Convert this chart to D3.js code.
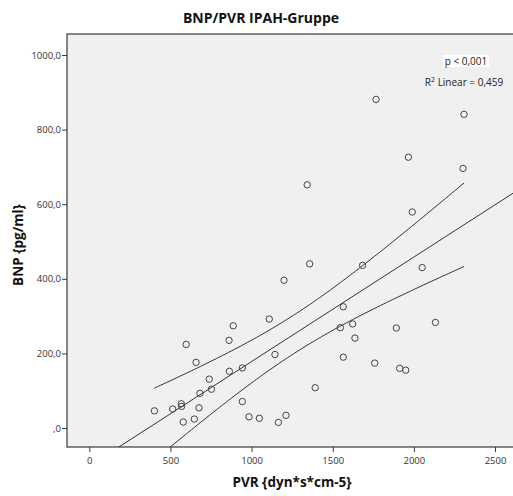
<!DOCTYPE html>
<html><head><meta charset="utf-8">
<script src="https://cdn.jsdelivr.net/npm/d3@7/dist/d3.min.js"></script>
<style>body{margin:0;background:#fff;} text{font-family:"Open Sans","Liberation Sans",sans-serif;}</style>
</head><body><svg id="c" width="513" height="496"></svg>
<script>
const title = "BNP/PVR IPAH-Gruppe";
const xTitle = "PVR {dyn*s*cm-5}";
const yTitle = "BNP {pg/ml}";
const xTicks = [0, 500, 1000, 1500, 2000, 2500];
const yTicks = [0, 200, 400, 600, 800, 1000];
const yTickLabels = [",0", "200,0", "400,0", "600,0", "800,0", "1000,0"];
const pText = "p < 0,001";
const r2Value = "0,459";
const pvr = [1767,2309,1966,2303,1343,1990,1358,1684,2051,1200,1565,1547,1623,1892,2133,1637,1565,1759,1913,1950,1392,1109,887,597,861,658,1144,739,863,943,682,753,401,514,567,569,676,579,647,943,984,1048,1165,1212];
const bnp = [881,841,726,696,652,579,440,436,430,396,325,269,279,268,283,241,190,174,160,155,108,292,274,224,235,176,197,131,152,161,93,104,46,51,65,58,54,16,24,71,30,26,15,34];

const svg = d3.select("#c");
const L = 67, T = 34, B = 447, R = 520;
const x = d3.scaleLinear().domain([0, 2500]).range([89.3, 495]);
const y = d3.scaleLinear().domain([0, 1000]).range([428, 55]);

svg.append("rect").attr("x", L).attr("y", T).attr("width", R - L).attr("height", B - T)
  .attr("fill", "#f0f0f0").attr("stroke", "#3a3a3a").attr("stroke-width", 1.2);

// axes
const xa = svg.append("g").attr("transform", `translate(0,${B})`)
  .call(d3.axisBottom(x).tickValues(xTicks).tickSize(5).tickFormat(d3.format("d")));
const ya = svg.append("g").attr("transform", `translate(${L},0)`)
  .call(d3.axisLeft(y).tickValues(yTicks).tickSize(5).tickFormat((d, i) => yTickLabels[i]));
[xa, ya].forEach(a => {
  a.select(".domain").remove();
  a.selectAll("line").attr("stroke", "#3a3a3a");
  a.selectAll("text").attr("fill", "#333").style("font-size", "9.5px");
});
xa.selectAll("text").attr("dy", "0.71em").attr("y", 10);
ya.selectAll("text").attr("x", -6);

// regression from data
const n = pvr.length;
const mx = d3.mean(pvr), my = d3.mean(bnp);
let sxx = 0, sxy = 0;
for (let i = 0; i < n; i++) { sxx += (pvr[i]-mx)**2; sxy += (pvr[i]-mx)*(bnp[i]-my); }
const b1 = sxy / sxx, b0 = my - b1 * mx;
let sse = 0;
for (let i = 0; i < n; i++) sse += (bnp[i] - b0 - b1*pvr[i])**2;
const s = Math.sqrt(sse / (n - 2));
const tq = 2.018;
const clipId = "clp";
svg.append("clipPath").attr("id", clipId).append("rect").attr("x", L).attr("y", T).attr("width", R-L).attr("height", B-T);
const g = svg.append("g").attr("clip-path", `url(#${clipId})`);
const xmin = d3.min(pvr), xmax = d3.max(pvr);
const fitX = [x.invert(L), x.invert(R)];
const line = d3.line().x(d => x(d[0])).y(d => y(d[1]));
g.append("path").datum(fitX.map(v => [v, b0 + b1*v])).attr("d", line)
  .attr("fill", "none").attr("stroke", "#333").attr("stroke-width", 1);
const xs = d3.range(0, 101).map(i => xmin + (xmax - xmin) * i / 100);
[1, -1].forEach(sg => {
  g.append("path").datum(xs.map(v => [v, b0 + b1*v + sg*tq*s*Math.sqrt(1/n + (v-mx)**2/sxx)]))
    .attr("d", line).attr("fill", "none").attr("stroke", "#333").attr("stroke-width", 1);
});

g.selectAll("circle").data(pvr).enter().append("circle")
  .attr("cx", (d) => x(d)).attr("cy", (d, i) => y(bnp[i])).attr("r", 3.2)
  .attr("fill", "none").attr("stroke", "#444").attr("stroke-width", 1);

// annotations
svg.append("rect").attr("x", 443).attr("y", 55).attr("width", 46).attr("height", 12).attr("fill", "#fff");
svg.append("text").attr("x", 466).attr("y", 64.5).attr("text-anchor", "middle").style("font-size", "10px").attr("fill", "#222").text(pText);
const r2t = svg.append("text").attr("x", 464).attr("y", 85.5).attr("text-anchor", "middle").style("font-size", "10px").attr("fill", "#222");
r2t.append("tspan").text("R");
r2t.append("tspan").attr("dy", -4).style("font-size", "7px").text("2");
r2t.append("tspan").attr("dy", 4).text(" Linear = " + r2Value);

// titles
svg.append("text").attr("x", 261).attr("y", 23).attr("text-anchor", "middle").style("font-size", "14px").style("font-weight", "bold").attr("fill", "#111").text(title);
svg.append("text").attr("x", 292).attr("y", 487).attr("text-anchor", "middle").style("font-size", "13.5px").style("font-weight", "bold").attr("fill", "#111").text(xTitle);
svg.append("text").attr("transform", "translate(23,245) rotate(-90)").attr("text-anchor", "middle").style("font-size", "13.5px").style("font-weight", "bold").attr("fill", "#111").text(yTitle);
</script></body></html>
